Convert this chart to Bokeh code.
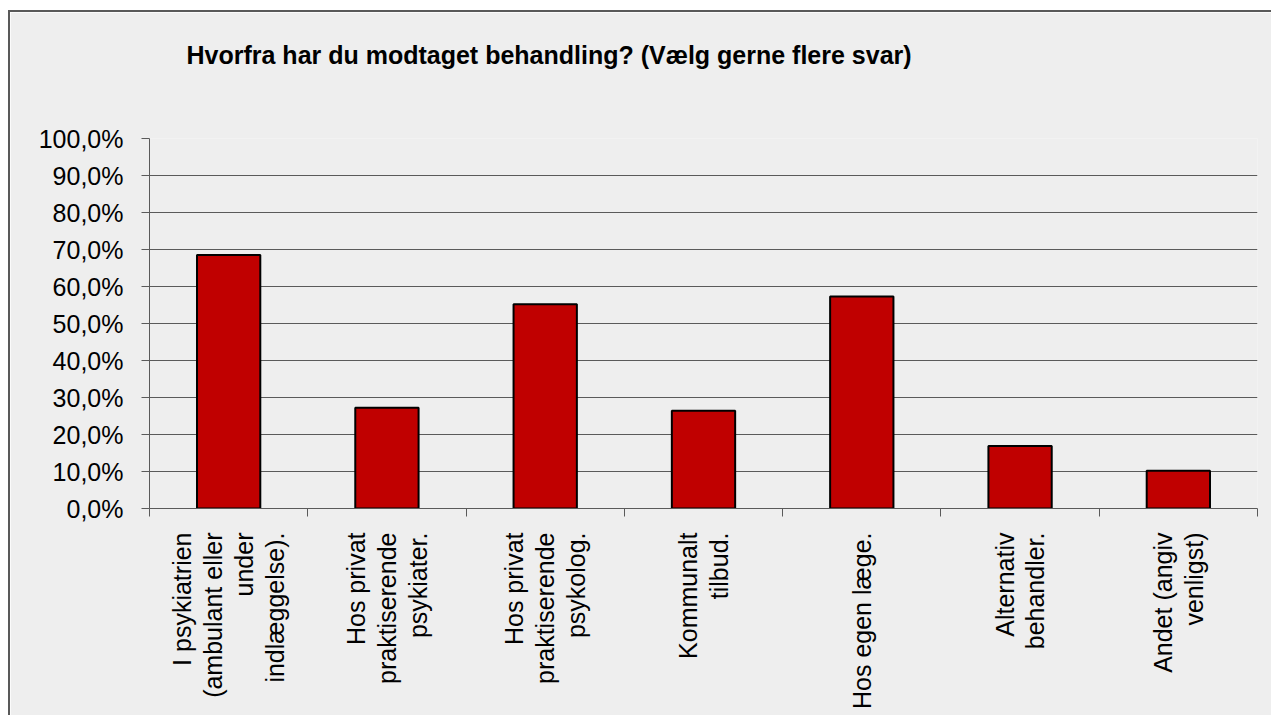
import math
import numpy as np
from bokeh.plotting import figure
from bokeh.models import Range1d, FixedTicker, Title
from bokeh.embed import file_html
from bokeh.resources import INLINE

title_text = "Hvorfra har du modtaget behandling? (Vælg gerne flere svar)"
categories = [
    "I psykiatrien\n(ambulant eller\nunder\nindlæggelse).",
    "Hos privat\npraktiserende\npsykiater.",
    "Hos privat\npraktiserende\npsykolog.",
    "Kommunalt\ntilbud.",
    "Hos egen læge.",
    "Alternativ\nbehandler.",
    "Andet (angiv\nvenligst)",
]
values = [68.5, 27.2, 55.2, 26.4, 57.3, 16.9, 10.2]
y_ticks = [0, 10, 20, 30, 40, 50, 60, 70, 80, 90, 100]
y_tick_labels = ["0,0%", "10,0%", "20,0%", "30,0%", "40,0%", "50,0%",
                 "60,0%", "70,0%", "80,0%", "90,0%", "100,0%"]

n = len(categories)
centers = [i + 0.5 for i in range(n)]
bounds = [float(i) for i in range(n + 1)]

BG = "#EEEEEE"
GRID = "#5a5a5a"
FONT = "Liberation Sans"

p = figure(width=1263, height=705, output_backend="svg", toolbar_location=None,
           x_range=Range1d(0, n), y_range=Range1d(0, 100),
           min_border_left=139, min_border_right=16, min_border_top=126,
           min_border_bottom=209)
p.styles = {"border-top": "2px solid #595959", "border-left": "2px solid #595959",
            "margin-top": "10px", "margin-left": "8px"}
p.background_fill_color = BG
p.border_fill_color = BG
p.outline_line_color = None
p.title.text = ""

# spacer between title and plot frame
spacer = Title(text=" ", text_font_size="1px", standoff=67)
p.add_layout(spacer, "above")
main_title = Title(text=title_text, text_font=FONT, text_font_size="25px",
                   text_font_style="bold", text_color="black", align="left",
                   vertical_align="bottom", offset=37, standoff=0)
p.add_layout(main_title, "above")

p.vbar(x=centers, top=values, width=0.40, bottom=0,
       fill_color="#C00000", line_color="black", line_width=2)

# y axis
p.yaxis.ticker = FixedTicker(ticks=y_ticks)
p.yaxis.major_label_overrides = {t: l for t, l in zip(y_ticks, y_tick_labels)}
p.yaxis.major_label_text_font = FONT
p.yaxis.major_label_text_font_size = "25px"
p.yaxis.major_label_text_color = "black"
p.yaxis.major_tick_out = 8
p.yaxis.major_tick_in = 0
p.yaxis.minor_tick_line_color = None
p.yaxis.axis_line_color = GRID
p.yaxis.major_tick_line_color = GRID
p.yaxis.major_label_standoff = 18

# x axis
p.xaxis.ticker = FixedTicker(ticks=centers, minor_ticks=bounds)
p.xaxis.major_label_overrides = {c: l for c, l in zip(centers, categories)}
p.xaxis.major_label_orientation = math.pi / 2
p.xaxis.major_label_text_font = FONT
p.xaxis.major_label_text_font_size = "25px"
p.xaxis.major_label_text_line_height = 1.1
p.xaxis.major_label_text_color = "black"
p.xaxis.major_tick_out = 0
p.xaxis.major_tick_in = 0
p.xaxis.minor_tick_out = 8
p.xaxis.minor_tick_in = 0
p.xaxis.minor_tick_line_color = GRID
p.xaxis.axis_line_color = GRID
p.xaxis.major_label_standoff = 16

p.xgrid.grid_line_color = None
p.ygrid.ticker = FixedTicker(ticks=y_ticks)
p.ygrid.grid_line_color = GRID
p.ygrid.grid_line_width = 1

open("out.html", "w").write(file_html(p, INLINE))
